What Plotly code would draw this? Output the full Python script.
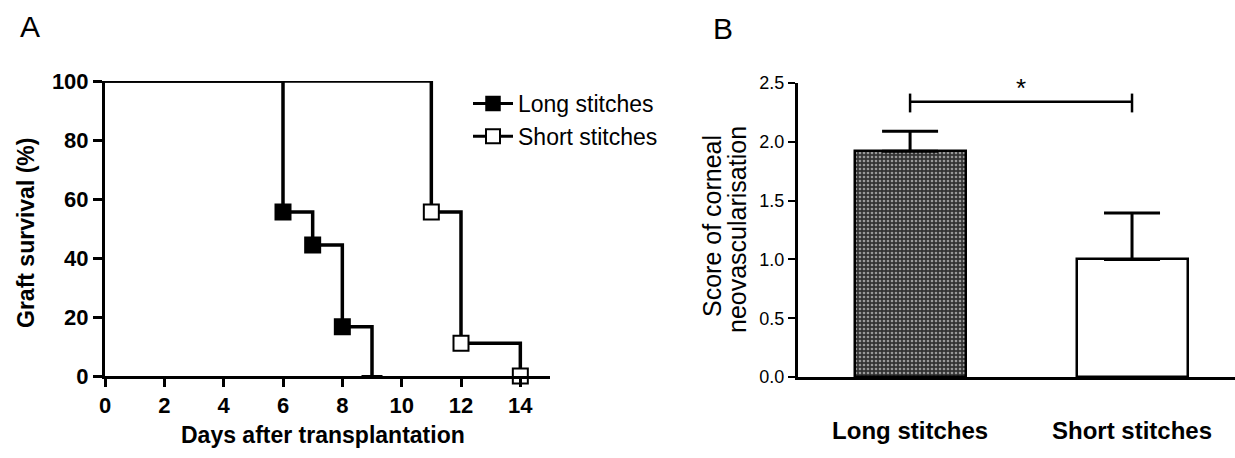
import plotly.graph_objects as go

# ---------------- data ----------------
long_days = [6, 7, 8, 9]
long_surv = [55.6, 44.4, 16.7, 0]
short_days = [11, 12, 14]
short_surv = [55.6, 11.1, 0]
start_day = 0
start_surv = 100

x_ticks_a = [0, 2, 4, 6, 8, 10, 12, 14]
y_ticks_a = [0, 20, 40, 60, 80, 100]

categories = ["Long stitches", "Short stitches"]
score_mean = [1.92, 1.0]
score_sem = [0.17, 0.395]
sig_y = 2.34
sig_tick_lo = 2.25
sig_tick_hi = 2.41
star_y = 2.46
y_ticks_b = [0.0, 0.5, 1.0, 1.5, 2.0, 2.5]

# ---------------- layout helpers ----------------
W, H = 1235, 458
FONT = "Liberation Sans, Arial, sans-serif"


def px(x):
    return x / W


def py(y):
    return 1 - y / H


fig = go.Figure()

# Panel A: step lines
for days, surv in [(long_days, long_surv), (short_days, short_surv)]:
    fig.add_trace(go.Scatter(
        x=[start_day] + days, y=[start_surv] + surv,
        mode="lines", line=dict(color="black", width=3.5, shape="hv"),
        showlegend=False, cliponaxis=False, xaxis="x", yaxis="y",
        hoverinfo="skip"))
# markers
fig.add_trace(go.Scatter(
    x=long_days, y=long_surv, mode="markers",
    marker=dict(symbol=["square"] * (len(long_days) - 1) + ["line-ew"],
                size=15, color="black",
                line=dict(color="black", width=2)),
    showlegend=False, cliponaxis=False, xaxis="x", yaxis="y"))
fig.add_trace(go.Scatter(
    x=short_days, y=short_surv, mode="markers",
    marker=dict(symbol="square", size=15, color="white",
                line=dict(color="black", width=2)),
    showlegend=False, cliponaxis=False, xaxis="x", yaxis="y"))
# legend entries
fig.add_trace(go.Scatter(
    x=[None], y=[None], mode="lines+markers", name="Long stitches",
    line=dict(color="black", width=3),
    marker=dict(symbol="square", size=14, color="black",
                line=dict(color="black", width=1.5)),
    xaxis="x", yaxis="y"))
fig.add_trace(go.Scatter(
    x=[None], y=[None], mode="lines+markers", name="Short stitches",
    line=dict(color="black", width=3),
    marker=dict(symbol="square", size=14, color="white",
                line=dict(color="black", width=2)),
    xaxis="x", yaxis="y"))

# Panel B: bars
fig.add_trace(go.Bar(
    x=categories, y=score_mean, width=0.5,
    marker=dict(color=["#333333", "white"],
                line=dict(color="black", width=2.5),
                pattern=dict(shape=[".", ""], fgcolor="#9a9a9a",
                             bgcolor="#2a2a2a", size=4, solidity=0.35)),
    error_y=dict(type="data", symmetric=False, array=score_sem,
                 arrayminus=[0, 0], color="black", thickness=3, width=28),
    showlegend=False, xaxis="x2", yaxis="y2"))

# significance bracket
fig.add_trace(go.Scatter(
    x=[categories[0], categories[0], None,
       categories[0], categories[1], None,
       categories[1], categories[1]],
    y=[sig_tick_lo, sig_tick_hi, None, sig_y, sig_y, None,
       sig_tick_lo, sig_tick_hi],
    mode="lines", line=dict(color="black", width=2.5),
    showlegend=False, cliponaxis=False, xaxis="x2", yaxis="y2",
    hoverinfo="skip"))

axis_common = dict(showline=True, linecolor="black", showgrid=False,
                   zeroline=False, ticks="outside", tickcolor="black",
                   automargin=False)

fig.update_layout(
    width=W, height=H,
    margin=dict(l=0, r=0, t=0, b=0, autoexpand=False),
    paper_bgcolor="white", plot_bgcolor="white",
    font=dict(family=FONT, color="black"),
    xaxis=dict(domain=[px(105), px(550)], range=[0, 15], anchor="y",
               tickvals=x_ticks_a, ticklen=8, tickwidth=3, linewidth=3,
               tickfont=dict(size=22, family=FONT, weight="bold"),
               **axis_common),
    yaxis=dict(domain=[py(376), py(81)], range=[0, 100], anchor="x",
               tickvals=y_ticks_a, ticklen=9, tickwidth=3, linewidth=3,
               tickfont=dict(size=22, family=FONT, weight="bold"),
               **axis_common),
    xaxis2=dict(domain=[px(798), 1.0], range=[-0.505, 1.464], anchor="y2",
                type="category", showline=True, linecolor="black",
                linewidth=3, showgrid=False, zeroline=False, ticks="",
                automargin=False, ticklabelstandoff=30,
                tickfont=dict(size=24, family=FONT, weight="bold")),
    yaxis2=dict(domain=[py(377), py(83)], range=[0, 2.5], anchor="x2",
                tickvals=y_ticks_b, tickformat=".1f", ticklen=7,
                tickwidth=2, linewidth=3,
                tickfont=dict(size=18, family=FONT), **axis_common),
    legend=dict(x=px(468), y=py(82), xanchor="left", yanchor="top",
                font=dict(size=23, family=FONT), bgcolor="rgba(0,0,0,0)",
                itemwidth=40, tracegroupgap=0),
    bargap=0,
)

annotations = [
    dict(text="A", x=px(30), y=py(26), font=dict(size=30)),
    dict(text="B", x=px(723), y=py(28), font=dict(size=30)),
    dict(text="<b>Graft survival (%)</b>", x=px(26), y=py(233),
         textangle=-90, font=dict(size=23)),
    dict(text="<b>Days after transplantation</b>", x=px(323), y=py(435),
         font=dict(size=23)),
    dict(text="Score of corneal", x=px(712), y=py(226), textangle=-90,
         font=dict(size=25)),
    dict(text="neovascularisation", x=px(737), y=py(230), textangle=-90,
         font=dict(size=25)),
    dict(text="*", x=0.5, y=star_y, xref="x2", yref="y2",
         font=dict(size=26)),
]
for a in annotations:
    a.setdefault("xref", "paper")
    a.setdefault("yref", "paper")
    a["showarrow"] = False
    a["xanchor"] = "center"
    a["yanchor"] = "middle"
    fig.add_annotation(**a)

fig.write_html("out.html")
